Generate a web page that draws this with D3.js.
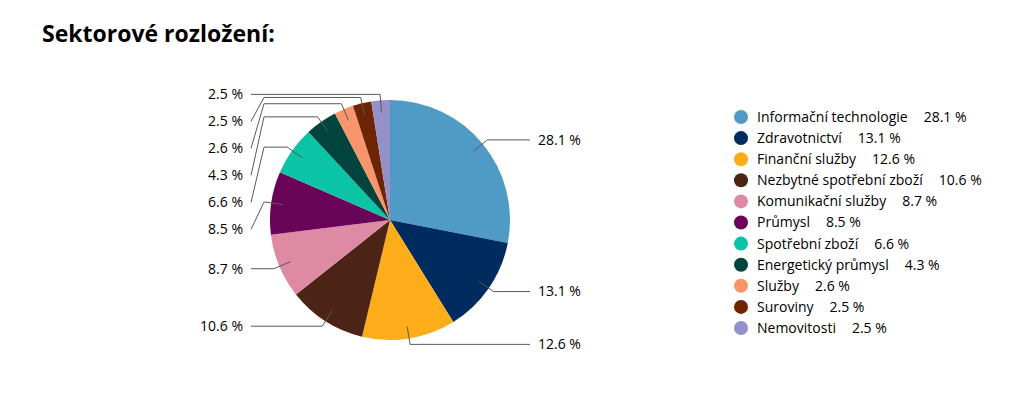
<!DOCTYPE html>
<html>
<head>
<meta charset="utf-8">
<script src="https://cdn.jsdelivr.net/npm/d3@7"></script>
<style>
  body { margin: 0; background: #fff; }
  text { font-family: "Open Sans", sans-serif; fill: #000; }
</style>
</head>
<body>
<div id="chart"></div>
<script>
// sector data
const sectors = [
  "Informační technologie", "Zdravotnictví", "Finanční služby",
  "Nezbytné spotřební zboží", "Komunikační služby", "Průmysl",
  "Spotřební zboží", "Energetický průmysl", "Služby", "Suroviny", "Nemovitosti"
];
const shares = [28.1, 13.1, 12.6, 10.6, 8.7, 8.5, 6.6, 4.3, 2.6, 2.5, 2.5];
const palette = [
  "#4F9BC5", "#002B5E", "#FDAD1A", "#4B2416", "#DE8AA5", "#6A0458",
  "#0BC3A5", "#03433E", "#F8956B", "#6E2302", "#9490C8"
];

const data = sectors.map((s, i) => ({ name: s, value: shares[i] }));

const W = 1030, H = 397;
const cx = 390, cy = 220, r = 120;
const fmt = v => d3.format(".1f")(v) + " %";

const svg = d3.select("#chart")
  .append("svg")
    .attr("width", W)
    .attr("height", H);

// title
svg.append("text")
  .attr("x", 42)
  .attr("y", 42)
  .attr("font-size", "23px")
  .attr("font-weight", "bold")
  .text("Sektorové rozložení:");

const color = d3.scaleOrdinal().domain(sectors).range(palette);

const pie = d3.pie().sort(null).value(d => d.value);
const arcs = pie(data);

const arc = d3.arc().innerRadius(0).outerRadius(r);

const g = svg.append("g").attr("transform", `translate(${cx},${cy})`);

g.selectAll("path.slice")
  .data(arcs)
  .enter()
  .append("path")
    .attr("class", "slice")
    .attr("d", arc)
    .attr("fill", d => color(d.data.name));

// label placement: point on radius k*r at the slice mid angle
const polar = (a, k) => [Math.sin(a) * r * k, -Math.cos(a) * r * k];

const labels = arcs.map(d => {
  const a = (d.startAngle + d.endAngle) / 2;
  const inner = polar(a, 0.9), outer = polar(a, 1.05);
  return { d, a, inner, outer, left: a > Math.PI, y: outer[1] };
});

// push crowded left labels downward
const gap = 27;
const leftLabels = labels.filter(l => l.left).sort((p, q) => p.y - q.y);
for (let i = 1; i < leftLabels.length; i++) {
  leftLabels[i].y = Math.max(leftLabels[i].y, leftLabels[i - 1].y + gap);
}

const elbowL = -r - 6, lineEndL = -r - 19, textL = -r - 27;
const lineEndR = r + 20, textR = r + 28;

g.selectAll("path.leader")
  .data(labels)
  .enter()
  .append("path")
    .attr("class", "leader")
    .attr("fill", "none")
    .attr("stroke", "#595959")
    .attr("stroke-width", 1)
    .attr("d", l => {
      const pts = [l.inner, l.outer];
      if (l.left) {
        pts.push([elbowL, l.outer[1]], [lineEndL, l.y]);
      } else {
        pts.push([lineEndR, l.y]);
      }
      return d3.line()(pts);
    });

g.selectAll("text.lbl")
  .data(labels)
  .enter()
  .append("text")
    .attr("class", "lbl")
    .attr("x", l => l.left ? textL : textR)
    .attr("y", l => l.y)
    .attr("dy", "0.35em")
    .attr("text-anchor", l => l.left ? "end" : "start")
    .attr("font-size", "14px")
    .text(l => fmt(l.d.data.value));

// legend
const legend = svg.append("g").attr("transform", "translate(741,117)");
const rowH = 21.1;

const rows = legend.selectAll("g")
  .data(data)
  .enter()
  .append("g")
    .attr("transform", (d, i) => `translate(0,${i * rowH})`);

rows.append("circle")
  .attr("r", 7)
  .attr("fill", d => color(d.name));

const lt = rows.append("text")
  .attr("x", 16)
  .attr("dy", "0.35em")
  .attr("font-size", "14px");
lt.append("tspan").text(d => d.name);
lt.append("tspan").attr("dx", 16).text(d => fmt(d.value));
</script>
</body>
</html>
